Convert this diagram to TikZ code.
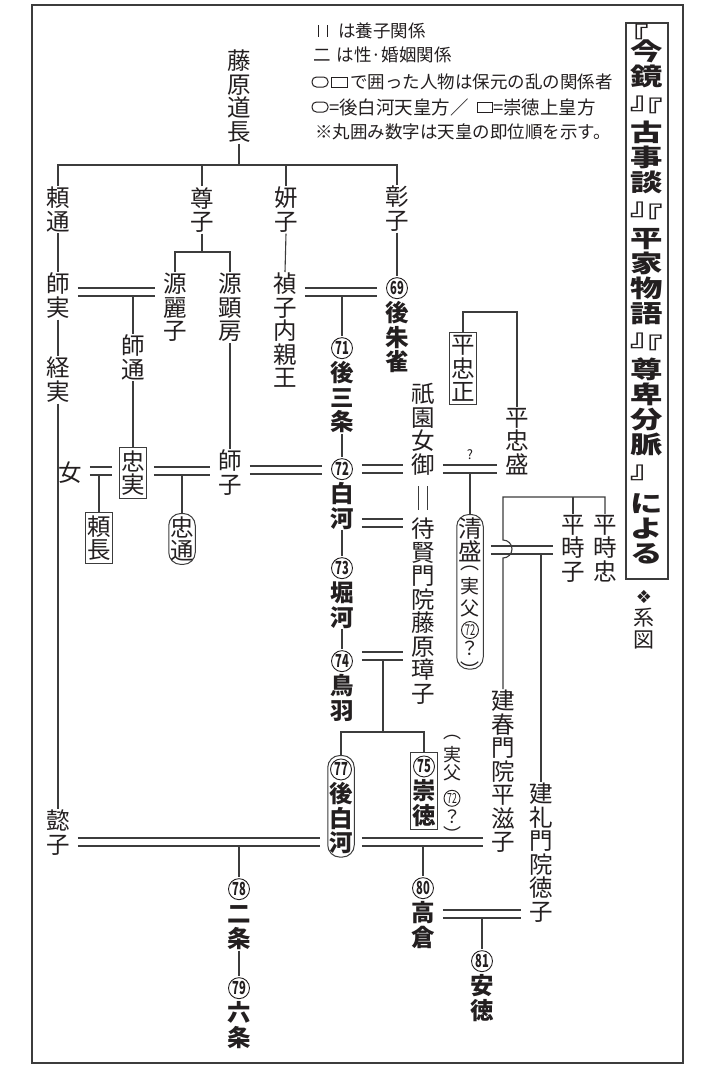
\documentclass[tikz,border=0pt]{standalone}
\usepackage{fontspec}
\usepackage{graphicx}
\setmainfont{Noto Sans CJK JP}
\newfontfamily\jp{Noto Sans CJK JP}
\newfontfamily\jpt{Noto Sans CJK JP}[FakeStretch=1.35]
\newfontfamily\dv{DejaVu Sans}
\usetikzlibrary{calc}
\definecolor{ink}{HTML}{231F20}
\definecolor{lc}{HTML}{3C3C3C}
\newcommand{\vfont}[2]{\fontsize{#1}{#2}\selectfont\lineskiplimit=-50pt\lineskip=0pt}
\newcommand{\fs}{\fontsize{19}{19}\selectfont}
\newcommand{\tA}{\rlap{\hspace*{-0.6em}\raisebox{-0.2em}{『}}\hspace*{1.35em}}
\newcommand{\tP}{\rlap{\raisebox{0.2em}{』}}\raisebox{-0.2em}{『}}
\newcommand{\tZ}{\raisebox{0.2em}{』}}
\newcommand{\cnum}[3]{\tikz[baseline=-0.38em,x=1pt,y=1pt]{\draw[draw=ink,line width=0.9pt] (0,0) circle[radius=#1];\node[shape=rectangle,draw=none,fill=none,inner sep=0pt,anchor=center,text=ink,font=\fontsize{#2}{#2}\selectfont] at (0,0) {\scalebox{0.62}[1]{#3}};}}
\newcommand{\cb}[1]{\cnum{10.5}{18}{#1}}
\newcommand{\marr}[4]{\draw[mar] (#1.east |- 0,#3) -- (#2.west |- 0,#3);\draw[mar] (#1.east |- 0,#4) -- (#2.west |- 0,#4);}
\tikzset{
 ln/.style={draw=lc,line width=1.1pt},
 vt/.style={align=center,inner sep=1pt,anchor=north,text=ink,font=\jp\vfont{23.5}{23.5}},
 vb/.style={vt,font=\jp\bfseries\vfont{23.5}{24.5}},
 sq/.style={draw=lc,line width=1pt,inner xsep=1.5pt,inner ysep=3pt},
 rd/.style={sq,rounded corners=12pt},
 lg/.style={inner sep=0pt,anchor=west,text=ink,font=\jp\fontsize{17.5}{17.5}\selectfont},
 lg4/.style={lg,font=\jp\fontsize{18.5}{18.5}\selectfont},
 sym/.style={draw=ink,line width=1pt},
 mar/.style={ln,shorten <=7pt,shorten >=7pt},
}
\begin{document}
\begin{tikzpicture}[x=1pt,y=-1pt]
\useasboundingbox (0,0) rectangle (714,1071);
\fill[white] (0,0) rectangle (714,1071);
\draw[draw=lc,line width=2pt] (32,5) rectangle (683,1063);
% title
\node[draw=lc,line width=1.5pt,minimum width=42,minimum height=556,inner sep=0pt,align=center,text=ink,font=\jpt\bfseries\vfont{24}{25}] (title) at (647,301)
 {\tA\\[-4pt]今\\鏡\\[3pt]\tP\\[3pt]古\\事\\談\\[3pt]\tP\\[3pt]平\\家\\物\\語\\[3pt]\tP\\[3pt]尊\\卑\\分\\脈\\[4pt]\tZ\\[5pt]に\\よ\\る\\[-10pt]\mbox{}};
\node[text=ink,font=\dv\fontsize{18}{18}\selectfont,inner sep=0pt] (mk) at (644,597) {❖};
\node[vt,font=\jp\vfont{21}{22}] (keizu) at (644,607) {系\\図};
% legend
\draw[sym] (318,25) -- (318,37);
\draw[sym] (327,25) -- (327,37);
\node[lg] (l1) at (338,31) {は養子関係};
\node[lg] (l2) at (313,55) {二\hspace{6pt}は性·婚姻関係};
\draw[sym,rounded corners=4.5pt] (312,77) rectangle (328,87);
\draw[sym] (331,77) rectangle (347,87);
\node[lg] (l3) at (350,82) {で囲った人物は保元の乱の関係者};
\draw[sym,rounded corners=4.5pt] (312,102) rectangle (328,112);
\node[lg4] (l4a) at (329,107) {=後白河天皇方／};
\draw[sym] (477,102) rectangle (492,112);
\node[lg4] (l4b) at (493,107) {=崇徳上皇方};
\node[lg] (l5) at (315,132) {※丸囲み数字は天皇の即位順を示す。};
% people
\node[vt] (michi) at (239,49) {藤\\原\\道\\長};
\node[vt] (yorimichi) at (58,186) {頼\\通};
\node[vt] (sonshi) at (202,186) {尊\\子};
\node[vt] (kenshi) at (286,186) {妍\\子};
\node[vt] (shoshi) at (397,185) {彰\\子};
\node[vt] (morozane) at (58,272) {師\\実};
\node[vt] (reishi) at (175,272) {源\\麗\\子};
\node[vt] (akifusa) at (230,272) {源\\顕\\房};
\node[vt] (teishi) at (285,272) {禎\\子\\内\\親\\王};
\node[vt] (tsunezane) at (58,356) {経\\実};
\node[vt] (moromichi) at (133,334) {師\\通};
\node[vt,sq] (tadazane) at (133,447) {忠\\実};
\node[vt] (moroko) at (230,449) {師\\子};
\node[vt,anchor=center] (onna) at (70,473) {女};
\node[vt,sq] (yorinaga) at (99,512) {頼\\長};
\node[vt,rd] (tadamichi) at (182,513) {忠\\通};
\node[vt] (ishi) at (58,809) {懿\\子};
\node[vt] (gion) at (423,382) {祇\\園\\女\\御};
\node[vt] (taiken) at (423,517) {待\\賢\\門\\院\\藤\\原\\璋\\子};
\node[vt,sq] (tadamasa) at (463,332) {平\\忠\\正};
\node[vt] (tadamori) at (517,407) {平\\忠\\盛};
\node[vt,rd] (kiyomori) at (470,514) {清\\盛\\[-15.1pt]{\fs ︵}\\[0.6pt]{\fs 実}\\[-1.5pt]{\fs 父}\\[-1.5pt]{\fs\cnum{8.5}{15}{72}}\\[-5.5pt]{\fs ？}\\[-12.6pt]{\fs\raisebox{-11pt}[6.3pt][0pt]{︶}}};
\node[vt] (tokiko) at (573,514) {平\\時\\子};
\node[vt] (tokitada) at (605,514) {平\\時\\忠};
\node[vt] (kenshun) at (503,689) {建\\春\\門\\院\\平\\滋\\子};
\node[vt] (kenrei) at (541,782) {建\\礼\\門\\院\\徳\\子};
\node[vt,font=\jp\vfont{18}{18}] (jippu) at (452,734) {︵\\[5.3pt]実\\父\\[7.3pt]\cnum{8}{14}{72}\\[0.7pt]？\\[-11pt]\raisebox{-10.5pt}[5.9pt][0pt]{︶}};
\node[text=ink,font=\jp\fontsize{13}{13}\selectfont,inner sep=0pt] (q) at (470,455) {?};
% emperors
\node[vb] (gosuzaku) at (397,276) {\cb{69}\\後\\朱\\雀};
\node[vb] (gosanjo) at (342,336) {\cb{71}\\後\\三\\条};
\node[vb] (shirakawa) at (342,457) {\cb{72}\\白\\河};
\node[vb] (horikawa) at (342,556) {\cb{73}\\堀\\河};
\node[vb] (toba) at (342,649) {\cb{74}\\鳥\\羽};
\node[vb,rd] (goshira) at (341,755) {\cb{77}\\後\\白\\河};
\node[vb,sq] (sutoku) at (424,752) {\cb{75}\\崇\\徳};
\node[vb] (nijo) at (239,877) {\cb{78}\\二\\条};
\node[vb] (rokujo) at (239,976) {\cb{79}\\六\\条};
\node[vb] (takakura) at (423,876) {\cb{80}\\高\\倉};
\node[vb] (antoku) at (482,949) {\cb{81}\\安\\徳};
% parent-child lines
\coordinate (t1) at (239,165);
\coordinate (t2) at (202,252);
\draw[ln] (michi.south) -- (t1);
\draw[ln] (yorimichi.north) |- (t1) -| (shoshi.north);
\draw[ln] (sonshi.north) -- (sonshi.north |- t1);
\draw[ln] (kenshi.north) -- (kenshi.north |- t1);
\draw[ln] (sonshi.south) -- (t2);
\draw[ln] (reishi.north) |- (t2) -| (akifusa.north);
\draw[ln] (yorimichi.south) -- (morozane.north);
\draw[ln] (kenshi.south) -- (teishi.north);
\draw[ln] (shoshi.south) -- (gosuzaku.north);
\draw[ln] (morozane.south) -- (tsunezane.north);
\draw[ln] (tsunezane.south) -- (ishi.north);
\draw[ln] (moromichi.south) -- (tadazane.north);
\draw[ln] (akifusa.south) -- (moroko.north);
\draw[ln] (gosanjo.south) -- (shirakawa.north);
\draw[ln] (shirakawa.south) -- (horikawa.north);
\draw[ln] (horikawa.south) -- (toba.north);
\draw[ln] (nijo.south) -- (rokujo.north);
% marriages
\marr{morozane}{reishi}{288}{296}
\draw[ln] (moromichi.north |- 0,296) -- (moromichi.north);
\marr{teishi}{gosuzaku}{288}{296}
\draw[ln] (gosanjo.north |- 0,296) -- (gosanjo.north);
\marr{onna}{tadazane}{467}{475}
\draw[ln] (yorinaga.north |- 0,475) -- (yorinaga.north);
\marr{tadazane}{moroko}{467}{475}
\draw[ln] (tadamichi.north |- 0,475) -- (tadamichi.north);
\marr{moroko}{shirakawa}{466}{474}
\marr{shirakawa}{gion}{465}{473}
\marr{gion}{tadamori}{465}{473}
\draw[ln] (kiyomori.north |- 0,473) -- (kiyomori.north);
\marr{shirakawa}{taiken}{519}{527}
\marr{toba}{taiken}{652}{660}
\coordinate (tb) at (383,660);
\coordinate (tc) at (383,732);
\draw[ln] (tb) -- (tc);
\draw[ln] (goshira.north) |- (tc) -| (sutoku.north);
\marr{kiyomori}{tokiko}{546}{554}
\draw[ln] (kenrei.north |- 0,554) -- (kenrei.north);
\marr{ishi}{goshira}{838}{846}
\draw[ln] (nijo.north |- 0,846) -- (nijo.north);
\marr{goshira}{kenshun}{838}{846}
\draw[ln] (takakura.north |- 0,846) -- (takakura.north);
\marr{takakura}{kenrei}{910}{918}
\draw[ln] (antoku.north |- 0,918) -- (antoku.north);
% adoption
\draw[ln,shorten <=10pt,shorten >=7pt] ([xshift=-4.5pt]gion.south) -- ([xshift=-4.5pt]taiken.north);
\draw[ln,shorten <=10pt,shorten >=7pt] ([xshift=4.5pt]gion.south) -- ([xshift=4.5pt]taiken.north);
% siblings
\coordinate (t4) at (490,312);
\draw[ln] (tadamasa.north) |- (t4) -| (tadamori.north);
\draw[ln] (tokiko.north) -- (tokiko.north |- 0,497);
\draw[ln] (tokitada.north) |- (kenshun.north |- 0,497) -- (kenshun.north |- 0,540) arc[start angle=-90,end angle=90,radius=9] -- (kenshun.north);
\end{tikzpicture}
\end{document}
